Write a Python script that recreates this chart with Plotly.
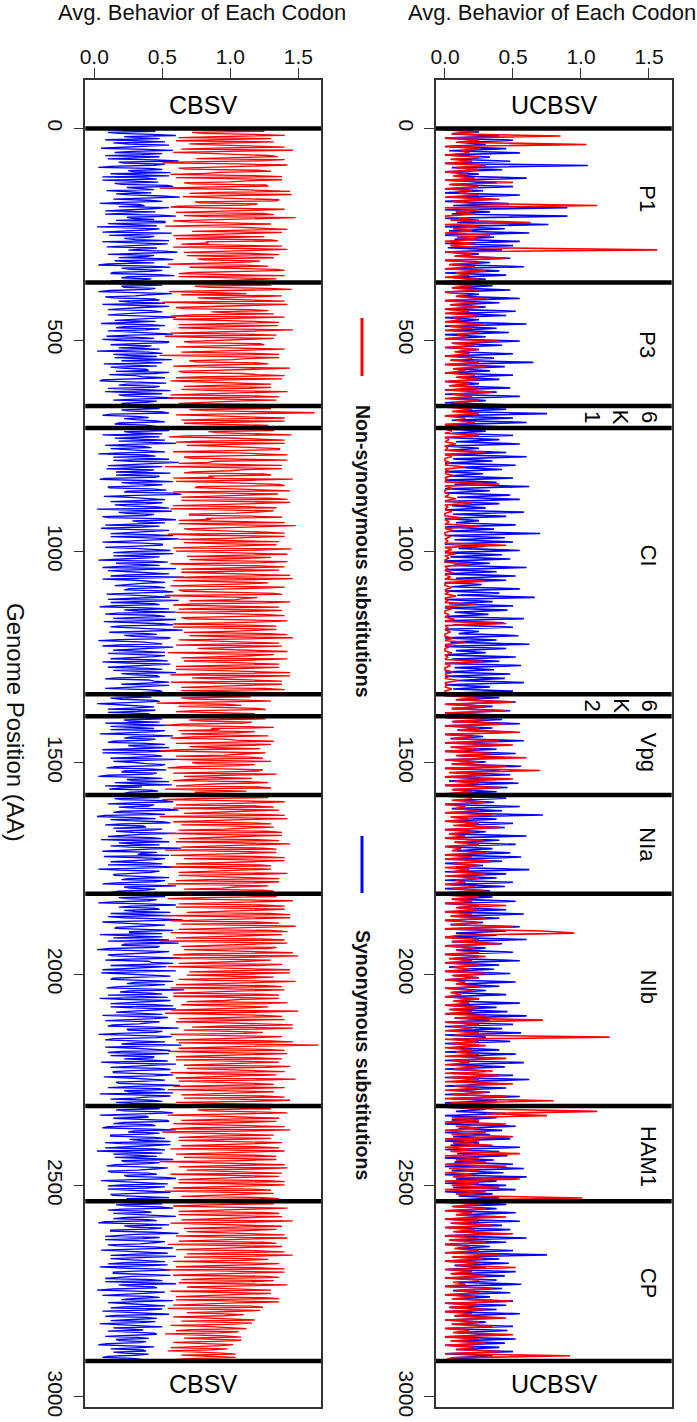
import plotly.graph_objects as go

# ---------------- data ----------------
regions = ["P1", "P3", "6K1", "CI", "6K2", "Vpg", "NIa", "NIb", "HAM1", "CP"]
region_bounds = [0, 364, 656, 708, 1338, 1390, 1576, 1810, 2312, 2537, 2915]
region_labels = ["P1", "P3", "6<br>K<br>1", "CI", "6<br>K<br>2", "Vpg", "NIa", "NIb", "HAM1", "CP"]
label_pos = [165, 510, 682, 1010, 1364, 1474, 1693, 2030, 2430, 2730]
x_ticks = [0, 0.5, 1.0, 1.5]
x_ticktext = ["0.0", "0.5", "1.0", "1.5"]
y_ticks = [0, 500, 1000, 1500, 2000, 2500, 3000]

# values in hundredths, per region, codon order
cbsv_syn = {
    "P1": [2,30,45,10,18,42,60,22,30,48,8,35,52,14,25,55,40,20,5,38,58,28,15,50,35,8,48,30,10,45,62,18,22,52,44,12,3,40,50,25,28,56,12,34,55,6,38,46,6,28,47,15,20,54,58,24,33,44,9,30,42,16,26,50,63,36,14,40,50,20,4,33,37,18,55,42,19,8,45,30,8,48,60,24,28,44,16,52,52,10,35,46,2,20,48,38,23,6,57,32,11,44,40,22,30,55,6,24,54,40,18,9,46,36,25,52,61,30,10,44,38,18,50,58,15,28,44,10,3,40,56,20,27,50,41,14,12,46,59,26,20,42,36,12,48],
    "P3": [8,36,50,20,22,45,40,12,3,30,57,40,30,8,14,44,48,18,26,52,6,28,55,35,18,10,42,50,33,20,10,38,60,45,24,15,45,30,5,40,52,22,16,48,38,10,28,50,58,26,9,32,44,6,20,55,54,30,12,42,36,18,48,25,2,40,50,14,25,46,15,33,57,20,32,50,7,28,46,12,20,38,40,16,55,44,11,30,35,52,27,6,4,40,53,24,18,48,44,10,30,56,8,36,50,18,22,42,58,30,14,46,38,20,26,50],
    "6K1": [10,35,48,20,25,50,55,12,6,30,40,22,30,45,52,18,15,38,45,25],
    "CI": [12,40,55,22,28,50,6,30,48,15,35,52,18,40,60,25,8,36,42,12,25,46,52,20,3,38,45,14,30,55,14,28,62,40,20,10,50,34,9,44,38,16,56,30,16,48,44,8,4,36,58,20,27,50,36,10,11,42,53,24,22,58,64,30,7,26,40,52,31,12,50,38,15,24,46,55,2,30,57,18,24,44,38,6,10,48,60,28,33,52,18,8,48,36,5,22,55,40,28,12,42,58,12,32,62,45,20,6,36,50,50,18,8,30,45,56,26,14,58,36,14,48,40,20,3,42,54,16,30,48,19,6,60,38,10,26,47,55,24,12,66,40,6,30,43,52,35,20,15,46,52,26,22,50,58,34,9,28,40,56,28,10,62,36,12,44,48,16,4,38,55,22,32,60,17,8,44,52,25,14,60,42,7,30,50,58,20,12,38,48,65,30,11,36,46,22,29,56,54,18,3,34,42,50,18,6,58,40,24,14,36,52,10,28,52,44,30,12,45,54,6,24,56,38,21,10,40,50,14,32,60,20,27,46,48,16,8,40,44,55,33,20,55,40,16,8,38,48,50,24,12],
    "6K2": [5,30,42,12,20,45,48,25,2,18,36,44,28,10,45,32,10,40,40,20],
    "Vpg": [15,40,50,22,26,48,8,30,55,12,32,44,12,52,46,20,4,36,58,28,22,45,40,14,10,38,52,25,30,55,18,6,56,40,6,28,44,50,25,12,60,38,14,30,38,52,48,16,9,40,53,22,20,46,42,10,3,35,50,24,28,55,15,34,57,8,35,20,11,42,47,26,22,44],
    "NIa": [4,32,48,15,20,52,58,26,10,44,40,18,30,55,62,20,14,38,52,8,2,30,45,12,25,50,56,20,8,36,38,14,50,42,16,28,60,34,22,10,42,50,5,30,55,18,28,48,12,26,64,40,18,6,46,35,32,55,7,24,52,44,24,12,40,50,10,28,58,36,3,18,48,42,30,14,15,40,55,25,20,52,44,16,6,34,60,22,26,45,38,18,12,40],
    "NIb": [8,32,52,18,24,46,40,14,3,38,60,28,18,44,48,22,30,56,12,34,56,10,22,48,65,36,6,20,44,52,34,16,15,42,58,26,26,50,4,28,50,14,38,55,10,40,62,22,20,48,46,12,2,30,55,42,30,10,14,36,64,25,8,40,42,58,28,12,53,38,17,6,60,34,5,24,47,56,36,14,12,44,58,30,24,52,40,18,9,36,66,26,19,42,50,10,31,54,4,20,56,40,22,12,44,58,12,28,60,36,28,16,38,50,6,26,54,44,18,8,48,38,33,14,10,44,62,24,25,50,45,18,3,36,57,46,15,8,40,52,30,20,64,40,8,30,50,56,20,10,55,30,12,44,43,22,35,54,5,18,60,40,22,12,48,56,28,14,14,36,58,44,7,26,46,52,38,16,18,40,63,30,10,48,52,22,26,58,4,30,56,38,30,12,42,50,16,28,60,42],
    "HAM1": [10,34,48,16,22,50,58,28,4,38,40,14,30,54,55,22,14,42,45,10,6,36,60,30,25,48,38,12,12,44,52,26,34,56,8,20,56,40,18,8,44,52,2,30,50,14,28,46,15,36,58,20,22,48,40,16,9,34,54,44,32,10,12,40,46,22,24,52,60,30,5,20,42,54,20,10,52,38,10,26,48,56,30,12,14,42,55,24,25,46],
    "CP": [6,30,50,16,24,48,58,20,10,36,42,14,32,52,60,24,14,40,46,8,3,34,55,22,28,50,40,12,12,44,62,30,20,8,48,36,8,28,52,44,34,10,16,42,58,30,5,22,45,54,26,12,60,38,12,24,38,52,22,10,54,36,4,20,48,56,30,14,14,40,56,28,20,8,42,50,8,32,60,18,25,44,46,14,2,30,52,40,18,6,40,48,30,20,58,36,10,26,44,52,22,12,50,38,6,24,48,55,16,8,38,46,28,12,45,34,4,20,42,50,14,30,36,10,24,44,46,20,8,32,40,16,18,38,34,10,3,26,44,30,12,36,38,14,22,40,30,10,6,28,35,18],
}
cbsv_nonsyn = {
    "P1": [55,100,125,72,80,118,140,90,62,130,98,60,132,104,70,88,118,140,88,64,146,112,58,84,110,128,135,96,75,140,122,68,50,105,142,116,95,62,68,120,130,92,82,56,115,138,60,94,138,112,100,66,72,126,128,80,48,100,120,144,90,70,145,110,65,86,105,136,134,74,78,120,112,62,56,98,140,116,86,60,124,132,66,84,148,120,94,58,70,110,130,88,52,104,118,142,102,72,138,114,76,58,125,96,60,130,135,82,84,64,110,138,58,94,142,118,92,66,120,136,68,104,132,76,80,122,115,92,54,110,128,70,98,134,140,88,72,62,118,140,62,96,134,110,86,60],
    "P3": [68,110,130,74,85,128,145,96,55,88,112,64,138,118,76,92,120,140,50,80,142,108,92,60,65,116,128,86,100,132,72,56,140,110,58,94,118,136,88,62,135,102,62,90,146,120,80,56,110,134,52,78,132,104,95,66,70,122,125,84,60,98,140,114,84,64,115,136,48,82,136,112,102,70,74,120,128,92,58,86,144,118,90,62,66,108,120,140,82,60,138,106,56,80,112,130,96,66,130,114,64,90,142,118,78,56,118,136,54,86,134,104,88,62,122,100],
    "6K1": [58,96,130,70,82,124,162,100,60,88,118,140,90,64,140,112,66,92,128,80,110],
    "CI": [62,130,132,84,90,122,145,68,55,100,118,140,78,60,140,112,68,94,112,136,136,80,58,104,125,142,96,66,70,120,142,88,84,62,120,138,52,96,138,110,100,72,66,124,130,84,88,58,146,116,60,90,115,136,140,76,74,108,122,144,58,86,135,112,92,64,128,142,64,96,144,118,80,58,110,134,56,92,132,120,104,70,70,116,138,82,86,62,120,140,62,88,148,122,94,66,72,104,126,140,54,80,140,116,98,62,118,136,66,90,134,110,84,58,145,120,60,96,112,142,90,68,130,108,70,92,142,124,56,80,122,140,100,64,136,110,64,88,118,144,88,60,146,118,58,94,128,112,78,56,140,124,94,62,66,104,132,138,52,84,120,110,104,70,144,126,72,58,116,136,86,62,138,116,60,96,124,140,96,64,68,112,142,124,80,58,112,134,58,88,134,118,100,66,128,142,70,92,146,114,62,84,118,136,92,60,138,110,76,94,122,142,54,82,132,116,88,64,142,120,66,98,114,136,98,60,136,112,60,90,128,144,82,56,144,116,72,94,120,138,56,84,138,112,90,64,126,140,64,96,130,104],
    "6K2": [50,88,115,64,72,110,130,80,46,96,108,62,85,120,126,74,60,100,118,70,90],
    "Vpg": [58,98,126,70,80,116,110,64,52,100,132,86,92,62,118,104,64,92,128,72,56,96,104,132,88,60,130,108,70,88,122,64,48,98,126,110,96,60,114,124,60,86,130,72,76,118,108,66,54,96,124,120,86,58,134,104,66,90,116,70,58,112,128,92,78,60,120,130,52,96,112,74,82,104],
    "NIa": [62,104,128,72,50,96,140,118,86,60,118,132,58,90,136,110,92,66,124,140,48,86,142,110,74,58,116,130,64,96,132,112,96,62,126,138,54,82,138,108,80,62,120,136,60,98,144,116,88,64,124,134,52,90,134,112,70,56,118,140,66,94,140,116,90,60,122,130,56,88,130,108,76,62,142,122,62,92,120,136,84,60,136,118,54,88,128,104,94,66,124,132,66,100],
    "NIb": [66,110,134,80,54,96,146,118,88,62,122,140,60,92,140,116,96,68,128,144,50,88,144,112,78,56,118,136,64,96,148,120,90,62,130,142,56,86,138,112,82,60,122,140,48,90,142,116,94,64,134,128,66,98,124,146,72,58,150,120,58,86,130,112,86,62,138,120,54,92,120,144,98,70,144,116,68,92,132,108,62,84,148,124,88,60,126,138,56,94,140,110,76,58,122,136,58,90,136,108,96,68,142,126,64,92,128,112,70,56,150,122,52,90,124,138,84,62,140,110,60,96,132,146,98,72,146,120,66,88,124,110,56,96,138,118,80,60,130,146,62,104,165,120,88,62,126,140,54,86,142,116,74,60,120,138,60,94,136,112,92,66,144,126,68,98,126,140,56,82,134,110,82,60,148,122,62,94,118,132,76,58,140,114,54,86,132,108,90,64,124,140,66,96,144,118,60,88,130,104],
    "HAM1": [62,104,130,76,82,120,142,96,54,88,118,136,90,64,134,110,58,92,124,140,74,56,144,118,50,84,116,132,86,62,130,106,62,94,138,120,96,64,122,136,56,90,140,112,78,60,118,134,66,96,134,110,48,82,126,140,88,62,142,118,68,92,122,138,56,86,136,110,92,62,128,140,62,94,140,116,76,58,116,130,52,88,132,108,84,64,124,136,66,100],
    "CP": [70,108,132,84,58,96,142,116,90,62,124,136,62,92,138,110,80,64,146,118,56,88,120,138,94,66,134,112,68,98,128,140,60,84,142,114,86,62,124,134,54,90,138,108,78,60,118,140,96,68,146,120,66,92,128,110,58,94,136,118,84,60,122,140,52,86,140,112,76,58,126,136,90,64,132,116,62,94,142,110,68,88,116,130,56,84,130,108,82,60,124,136,60,92,136,104,70,58,116,124,54,82,122,100,68,90,110,96,58,80,104,118,64,86,116,98,56,82,100,112,72,60,106,92,52,78,96,108,66,84,108,90,58,76,102,94,70,56,98,86,54,80,94,104,64,84,104,76,60,90],
}
ucbsv_syn = {
    "P1": [0,25,5,40,0,50,10,30,0,45,3,55,0,33,8,48,0,105,5,42,0,25,10,60,0,38,4,50,0,28,0,55,12,35,0,47,6,90,0,33,5,90,0,25,9,76,0,44,3,62,0,36,7,55,0,50,2,42,0,25,10,48,0,33,5,58,0,40,0,45,6,30,0],
    "P3": [0,35,6,48,0,25,10,55,0,40,4,30,0,52,8,45,0,25,3,60,0,38,7,47,0,30,0,55,5,42,0,25,9,50,0,36,4,65,0,44,6,33,0,50,10,40,0,25,5,48,0,38,0,55,7,30,0,45],
    "6K1": [0,45,8,75,0,50,5,60,0,40],
    "CI": [0,30,5,50,0,40,8,55,0,25,3,45,0,60,6,35,0,52,10,42,0,28,4,50,0,38,7,62,0,33,0,48,9,55,0,40,5,30,0,58,6,45,0,25,8,52,0,36,3,70,0,44,7,50,0,30,10,55,0,42,4,48,0,33,6,60,0,38,0,52,8,45,0,27,5,55,0,40,9,66,0,35,3,50,0,46,7,32,0,58,0,43,6,50,0,25,10,54,0,38,4,62,0,45,8,30,0,52,5,40,0,56,7,36,0,48,0,44,9,58,0,33,6,50,0],
    "6K2": [0,40,8,52,0,35,5,48,0,45],
    "Vpg": [0,42,6,55,0,35,9,50,0,28,4,58,0,45,7,38,0,52,10,44,0,30,5,56,0,40,8,48,0,33,3,54,0,46,6,38,0],
    "NIa": [0,45,8,36,0,55,5,42,0,72,6,38,0,50,10,44,0,30,4,60,0,40,7,52,0,35,9,48,0,56,5,42,0,28,8,62,0,45,6,38,0,50,4,44,0,33,7],
    "NIb": [0,35,5,52,0,25,10,45,0,58,6,40,0,28,4,55,0,45,8,38,0,60,5,42,0,30,9,50,0,25,7,55,0,40,3,36,0,48,6,25,0,52,10,40,0,30,5,45,0,25,8,55,0,38,4,46,0,60,7,33,0,50,0,42,9,56,0,30,6,48,0,25,5,40,0,52,10,36,0,58,7,44,0,30,4,50,0,62,8,40,0,45,6,33,0,55,5,38,0,48],
    "HAM1": [0,30,8,45,0,38,5,25,0,52,10,42,0,33,6,48,0,25,4,55,0,40,9,46,0,36,7,50,0,58,5,43,0,60,8,38,0,45,6,52,0,35,10,40,0],
    "CP": [0,45,6,38,0,52,10,30,0,55,5,42,0,48,8,36,0,60,4,45,0,33,9,50,0,75,6,40,0,47,7,30,0,52,5,44,0,38,10,56,0,42,6,48,0,33,8,50,0,45,4,38,0,55,7,42,0,30,5,50,0,46,9,36,0,52,6,44,0,40,8,50,0,35,5,30],
}
ucbsv_nonsyn = {
    "P1": [0,22,5,85,0,25,8,104,0,25,12,18,0,25,4,20,0,30,8,25,0,15,6,22,0,50,3,25,0,20,10,25,0,40,5,20,112,0,25,8,22,0,18,4,63,0,25,6,20,0,33,9,25,0,22,4,25,156,0,20,7,45,0,25,3,22,0,30,8,18,0,25,5],
    "P3": [0,20,5,25,0,15,8,30,0,22,4,25,0,18,0,25,6,12,0,28,3,20,0,25,9,15,0,40,5,22,0,25,7,18,0,20,4,25,0,30,6,15,0,22,8,25,0,18,3,25,0,35,5,20,0,25,7,15],
    "6K1": [0,20,5,25,0,15,8,22,0,18],
    "CI": [0,5,0,25,0,3,0,8,0,2,0,30,0,5,0,0,4,0,15,0,3,0,6,0,2,0,40,0,5,0,0,3,0,8,0,20,0,2,0,5,0,0,12,0,3,0,25,0,6,0,0,4,0,2,0,45,0,5,0,8,0,3,0,0,18,0,2,0,6,0,4,0,30,0,0,5,0,3,0,8,0,2,0,22,0,5,0,0,3,0,7,0,45,0,2,0,4,0,0,6,0,15,0,3,0,0,5,0,2,0,28,0,4,0,0,6,0,3,0,10,0,2,0,5,0,0],
    "6K2": [0,25,8,50,0,30,5,45,0,20],
    "Vpg": [0,30,5,45,0,25,10,55,0,20,6,40,0,50,4,25,0,35,8,60,0,25,5,45,0,70,3,30,0,50,7,25,0,40,5,20,0],
    "NIa": [0,20,5,30,0,15,8,25,0,35,4,18,0,25,6,40,0,22,3,15,0,28,7,25,0,12,5,30,0,20,0,35,6,25,0,18,4,30,0,25,8,15,0,22,5,30,0],
    "NIb": [0,25,5,20,0,45,8,25,0,20,4,30,0,25,6,50,0,72,95,10,0,25,5,40,0,22,8,25,0,30,3,20,0,25,6,18,0,30,5,25,0,15,8,25,0,20,4,12,0,25,6,18,0,25,3,20,0,30,8,72,0,25,5,20,0,25,7,121,0,25,4,30,0,20,8,25,0,45,5,18,0,25,6,35,0,40,3,25,0,50,7,25,0,30,5,45,0,80,4,25],
    "HAM1": [0,40,112,30,75,5,25,0,45,8,25,0,30,5,50,0,25,6,35,0,20,4,55,0,25,8,30,0,45,3,25,0,20,6,55,0,25,5,40,0,30,8,25,101,0],
    "CP": [0,25,5,30,0,20,8,45,0,25,4,35,0,22,6,50,0,25,3,30,0,18,7,25,0,40,5,28,0,25,9,52,0,20,4,30,0,25,6,15,0,35,8,25,0,22,5,48,0,25,3,30,0,20,7,45,0,25,5,35,0,18,6,50,0,25,4,30,0,22,8,40,0,92,5,0],
}


def series(d):
    xs, ys = [], []
    for i, r in enumerate(regions):
        v = d[r]
        a, b = region_bounds[i], region_bounds[i + 1]
        n = len(v)
        for k, val in enumerate(v):
            ys.append(a + (b - a) * (k + 0.5) / n)
            xs.append(val / 100.0)
    return xs, ys


W, H = 697, 1422
FONT = "Liberation Sans, Arial, Helvetica, sans-serif"
RED = "#FF0000"
BLUE = "#0000FF"

fig = go.Figure()
for (syn, non, xa, ya, lw) in [(cbsv_syn, cbsv_nonsyn, "x", "y", 1.3),
                               (ucbsv_syn, ucbsv_nonsyn, "x2", "y2", 1.6)]:
    bx, by = series(syn)
    rx, ry = series(non)
    fig.add_trace(go.Scatter(x=bx, y=by, mode="lines", line=dict(color=BLUE, width=lw),
                             xaxis=xa, yaxis=ya, showlegend=False, hoverinfo="skip"))
    fig.add_trace(go.Scatter(x=rx, y=ry, mode="lines", line=dict(color=RED, width=lw),
                             xaxis=xa, yaxis=ya, showlegend=False, hoverinfo="skip"))

ydom = [1 - 1406.7 / H, 1 - 80 / H]
common_x = dict(range=[-0.066, 1.667], side="top", tickvals=x_ticks, ticktext=x_ticktext,
                ticks="outside", ticklen=10, tickwidth=1.2, tickcolor="#333",
                ticklabelstandoff=-4,
                showline=True, mirror=True, linecolor="#333", linewidth=1.5,
                showgrid=False, zeroline=False, automargin=False,
                tickfont=dict(family=FONT, size=21, color="#111"), fixedrange=True)
common_y = dict(range=[3023, -115], tickvals=y_ticks, ticks="outside", ticklen=10,
                tickwidth=1.2, tickcolor="#333", tickangle=90,
                showline=True, mirror=True, linecolor="#333", linewidth=1.5,
                showgrid=False, zeroline=False, automargin=False,
                tickfont=dict(family=FONT, size=21, color="#111"), fixedrange=True)

fig.update_layout(
    width=W, height=H, template="none",
    paper_bgcolor="white", plot_bgcolor="white",
    margin=dict(l=0, r=0, t=0, b=0),
    xaxis=dict(domain=[85.3 / W, 321 / W], anchor="y", **common_x),
    yaxis=dict(domain=ydom, anchor="x", **common_y),
    xaxis2=dict(domain=[436 / W, 671.7 / W], anchor="y2", **common_x),
    yaxis2=dict(domain=ydom, anchor="x2", **common_y),
)

shapes = []
annotations = []
for xa, ya, name in [("x", "y", "CBSV"), ("x2", "y2", "UCBSV")]:
    for b in region_bounds:
        shapes.append(dict(type="line", xref=f"{xa} domain", yref=ya, x0=0, x1=1, y0=b, y1=b,
                           line=dict(color="black", width=4.5)))
    for yy in [-57, 2969]:
        annotations.append(dict(text=name, xref=f"{xa} domain", yref=ya, x=0.5, y=yy,
                                xanchor="center", yanchor="middle",
                                showarrow=False, font=dict(family=FONT, size=25, color="black")))

# region labels (UCBSV panel)
for lab, yy in zip(region_labels, label_pos):
    multi = "<br>" in lab
    annotations.append(dict(text=lab, xref="x2", yref="y2", x=1.295 if multi else 1.493, y=yy,
                            xanchor="center", yanchor="middle",
                            textangle=90, showarrow=False,
                            font=dict(family=FONT, size=22, color="black")))

# titles
for cx in [202, 552]:
    annotations.append(dict(text="Avg. Behavior of Each Codon", xref="paper", yref="paper",
                            x=cx / W, y=1 - 12 / H, xanchor="center", yanchor="middle",
                            showarrow=False,
                            font=dict(family=FONT, size=22, color="#111")))
annotations.append(dict(text="Genome Position (AA)", xref="paper", yref="paper",
                        x=16 / W, y=1 - 722 / H, xanchor="center", yanchor="middle",
                        textangle=90, showarrow=False,
                        font=dict(family=FONT, size=24, color="#111")))

# legend
for col, y0, y1, txt, tc in [(RED, 318, 376, "Non-synonymous substitutions", 552),
                             (BLUE, 836, 893, "Synonymous substitutions", 1055)]:
    shapes.append(dict(type="line", xref="paper", yref="paper", x0=362 / W, x1=362 / W,
                       y0=1 - y0 / H, y1=1 - y1 / H, line=dict(color=col, width=3)))
    annotations.append(dict(text=f"<b>{txt}</b>", xref="paper", yref="paper", x=363 / W,
                            y=1 - tc / H, xanchor="center", yanchor="middle",
                            textangle=90, showarrow=False,
                            font=dict(family=FONT, size=19.5, color="#111")))

fig.update_layout(shapes=shapes, annotations=annotations)
fig.write_html("out.html", config={"displayModeBar": False},
               post_script="document.body.style.margin='0px';document.body.style.padding='0px';")
